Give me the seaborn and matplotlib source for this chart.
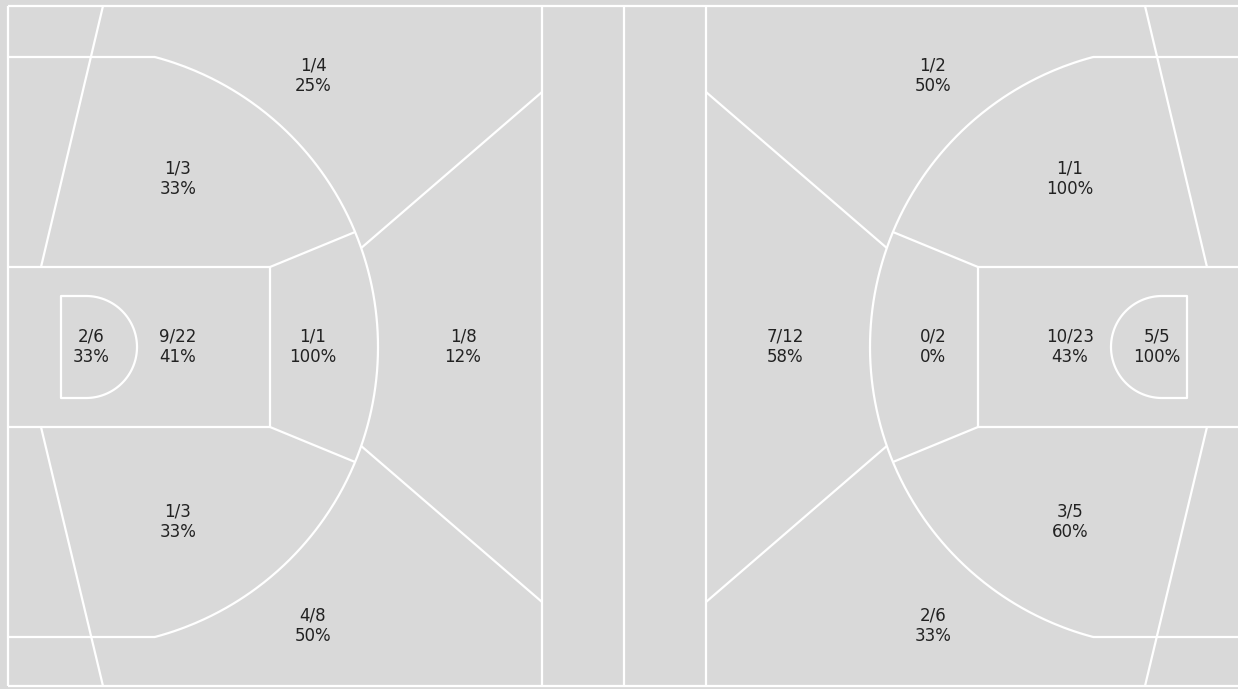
import numpy as np
import seaborn as sns
import matplotlib.pyplot as plt

# shot zones: made / attempted
zones = ["L top wing 3", "L top mid", "L restricted", "L paint", "L top key",
         "L key 3", "L bottom mid", "L bottom wing 3",
         "R top wing 3", "R top mid", "R paint", "R restricted", "R top key",
         "R key 3", "R bottom mid", "R bottom wing 3"]
made = [1, 1, 2, 9, 1, 1, 1, 4,
        1, 1, 10, 5, 0, 7, 3, 2]
attempts = [4, 3, 6, 22, 1, 8, 3, 8,
            2, 1, 23, 5, 2, 12, 5, 6]

# where each zone label sits (pixel space of the court drawing)
label_x = [313, 178, 91, 178, 313, 463, 178, 313,
           933, 1070, 1070, 1157, 933, 785, 1070, 933]
label_y = [76, 179, 347, 347, 347, 347, 522, 626,
           76, 179, 347, 347, 347, 347, 522, 626]

W, H = 1238, 689
court_bg = "#d9d9d9"
line_kw = dict(color="white", lw=1.6, solid_capstyle="butt", zorder=2)

sns.set_theme(style="white")
plt.rcParams["font.family"] = ["DejaVu Sans"]

fig = plt.figure(figsize=(W / 100, H / 100), dpi=100, facecolor=court_bg)
ax = fig.add_axes([0, 0, 1, 1])
ax.set_facecolor(court_bg)
ax.set_xlim(0, W)
ax.set_ylim(H, 0)
ax.axis("off")

MID = 624          # half court line
top, bot = 6, 686  # sidelines
cy = 347           # basket line
ACX, R = 78, 300   # three point arc


def arc_pt(dy):
    return ACX + np.sqrt(R ** 2 - dy ** 2)


def draw_half(mirror):
    if mirror:
        fx = lambda x: 2 * MID - np.asarray(x, dtype=float)
    else:
        fx = lambda x: np.asarray(x, dtype=float)

    def seg(xs, ys):
        ax.plot(fx(xs), ys, **line_kw)

    # boundary
    seg([8, 8], [top, bot])
    seg([8, MID], [top, top])
    seg([8, MID], [bot, bot])

    # three point line
    seg([8, arc_pt(290)], [57, 57])
    seg([8, arc_pt(290)], [637, 637])
    dy = np.linspace(-290, 290, 300)
    seg(arc_pt(dy), cy + dy)

    # paint and restricted area
    seg([8, 270, 270, 8], [267, 267, 427, 427])
    seg([86, 61, 61, 86], [296, 296, 398, 398])
    tt = np.linspace(-np.pi / 2, np.pi / 2, 120)
    seg(86 + 51 * np.cos(tt), cy + 51 * np.sin(tt))

    # zone dividers
    seg([270, arc_pt(115)], [267, 232])
    seg([270, arc_pt(115)], [427, 462])
    seg([arc_pt(99), 542], [248, 92])
    seg([arc_pt(99), 542], [446, 602])
    seg([542, 542], [top, bot])
    seg([103, 41], [top, 267])
    seg([41, 103], [427, bot])


draw_half(False)
draw_half(True)
ax.plot([MID, MID], [top, bot], **line_kw)

for x, y, m, a in zip(label_x, label_y, made, attempts):
    pct = round(100 * m / a)
    ax.text(x, y, f"{m}/{a}\n{pct}%", ha="center", va="center",
            fontsize=12, color="#222222", linespacing=1.15, zorder=3)

fig.savefig("out.png", dpi=100, facecolor=court_bg)
